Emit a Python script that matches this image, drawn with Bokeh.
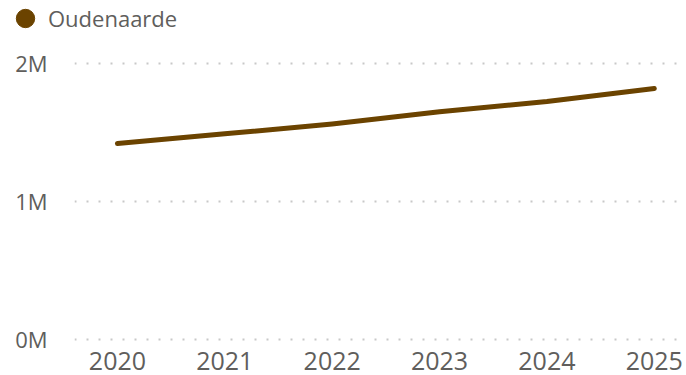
from bokeh.plotting import figure
from bokeh.layouts import column, row
from bokeh.models import FixedTicker, Range1d, Legend, LegendItem, ColumnDataSource
from bokeh.embed import file_html
from bokeh.resources import INLINE

years = [2020, 2021, 2022, 2023, 2024, 2025]
values = [1420000, 1490000, 1562000, 1650000, 1725000, 1818000]
series_name = "Oudenaarde"
y_ticks = [0, 1000000, 2000000]
y_tick_labels = ["0M", "1M", "2M"]

LINE_COLOR = "#6B4300"
TEXT_COLOR = "#605E5C"
FONT = "Open Sans"

# ---- legend strip (separate small figure so the legend is not clipped) ----
lg = figure(width=686, height=38, output_backend="svg", toolbar_location=None,
            x_range=Range1d(0, 1), y_range=Range1d(0, 1),
            min_border_left=0, min_border_right=0, min_border_top=0, min_border_bottom=0)
lg.axis.visible = False
lg.grid.visible = False
lg.outline_line_color = None
leg_src = ColumnDataSource(dict(x=[float("nan")], y=[float("nan")]))
dot = lg.scatter("x", "y", source=leg_src, size=18, color=LINE_COLOR)
legend = Legend(items=[LegendItem(label=series_name, renderers=[dot])], location=(2, -3),
                orientation="horizontal", padding=0, margin=0, spacing=0,
                glyph_width=46, glyph_height=46, label_standoff=0,
                label_text_font=FONT, label_text_font_size="22px", label_text_color=TEXT_COLOR,
                border_line_color=None, background_fill_alpha=0)
lg.add_layout(legend, "center")

# ---- main chart ----
p = figure(width=686, height=337, output_backend="svg", toolbar_location=None,
           x_range=Range1d(2019.6, 2025.3), y_range=Range1d(-14500, 2181000),
           min_border_left=74, min_border_right=0, min_border_top=0, min_border_bottom=34)
p.outline_line_color = None
p.background_fill_color = "white"
p.border_fill_color = "white"

src = ColumnDataSource(dict(x=years, y=values))
p.line("x", "y", source=src, line_color=LINE_COLOR, line_width=5, line_cap="round", line_join="round")

p.xaxis.ticker = FixedTicker(ticks=years)
p.xaxis.axis_line_color = None
p.xaxis.major_tick_line_color = None
p.xaxis.minor_tick_line_color = None
p.xaxis.major_label_standoff = 4
p.xaxis.major_label_text_font = FONT
p.xaxis.major_label_text_font_size = "25px"
p.xaxis.major_label_text_color = TEXT_COLOR

p.yaxis.ticker = FixedTicker(ticks=y_ticks)
p.yaxis.major_label_overrides = {t: l for t, l in zip(y_ticks, y_tick_labels)}
p.yaxis.axis_line_color = None
p.yaxis.major_tick_line_color = None
p.yaxis.minor_tick_line_color = None
p.yaxis.major_label_standoff = 21
p.yaxis.major_label_text_font = FONT
p.yaxis.major_label_text_font_size = "22px"
p.yaxis.major_label_text_color = TEXT_COLOR

p.xgrid.grid_line_color = None
p.ygrid.grid_line_color = "#C8C8C8"
p.ygrid.grid_line_width = 2
p.ygrid.grid_line_dash = "2 10"

layout = column(row(lg), p, spacing=0)
open("out.html", "w").write(file_html(layout, INLINE))
